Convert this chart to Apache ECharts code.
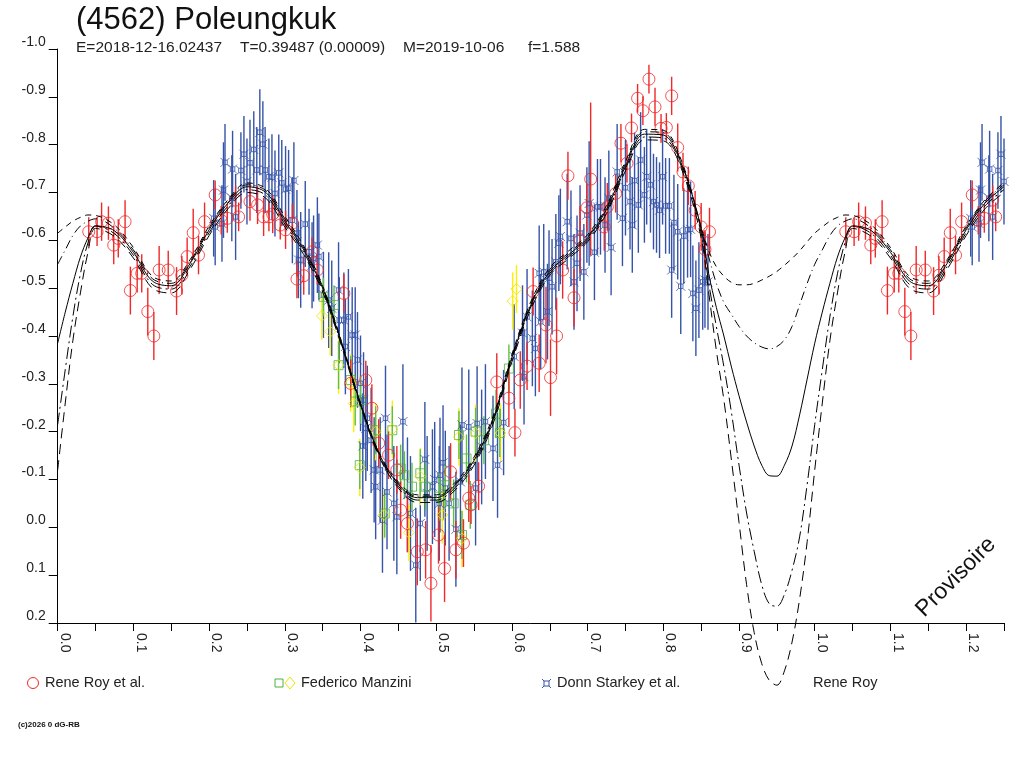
<!DOCTYPE html>
<html><head><meta charset="utf-8">
<script src="https://cdn.jsdelivr.net/npm/echarts@6/dist/echarts.min.js"></script>
<style>html,body{margin:0;padding:0;background:#fff}#c{width:1024px;height:768px}</style>
</head><body><div id="c"></div>
<script>
// ---------- fit curves (phase grid, one array per fit) ----------
const FIT_PHASE = [0,0.01,0.02,0.03,0.04,0.05,
  0.075,0.1,0.125,0.15,0.175,0.2,0.225,0.25,0.275,0.3,
  0.325,0.35,0.375,0.4,0.425,0.45,0.475,0.5,0.525,0.55,
  0.575,0.6,0.625,0.65,0.675,0.7,0.725,0.75,0.775,0.8,
  0.825,0.85,
  0.86,0.87,0.88,0.89,0.9,0.91,0.92,0.93,0.94,0.95,0.96,0.97,0.98,0.99];
const FIT1 = [-0.615,-0.628,-0.64,-0.648,-0.653,-0.652,
  -0.632,-0.585,-0.525,-0.515,-0.56,-0.63,-0.685,-0.72,-0.708,-0.65,
  -0.588,-0.505,-0.388,-0.26,-0.155,-0.095,-0.068,-0.068,-0.094,-0.147,
  -0.232,-0.362,-0.472,-0.543,-0.578,-0.612,-0.673,-0.765,-0.832,-0.83,
  -0.762,-0.628,
  -0.578,-0.545,-0.525,-0.512,-0.507,-0.507,-0.51,-0.517,-0.525,-0.535,-0.548,-0.562,-0.578,-0.597];
const FIT2 = [-0.55,-0.58,-0.61,-0.63,-0.64,-0.645,
  -0.625,-0.58,-0.52,-0.51,-0.556,-0.626,-0.682,-0.716,-0.704,-0.645,
  -0.584,-0.503,-0.387,-0.259,-0.153,-0.092,-0.065,-0.065,-0.091,-0.143,
  -0.228,-0.358,-0.468,-0.539,-0.574,-0.608,-0.669,-0.76,-0.827,-0.825,
  -0.758,-0.625,
  -0.565,-0.51,-0.47,-0.445,-0.42,-0.40,-0.386,-0.377,-0.373,-0.378,-0.392,-0.42,-0.465,-0.51];
const FIT3 = [-0.385,-0.45,-0.51,-0.565,-0.605,-0.63,
  -0.62,-0.575,-0.515,-0.505,-0.552,-0.622,-0.678,-0.712,-0.70,-0.64,
  -0.58,-0.50,-0.385,-0.258,-0.152,-0.09,-0.062,-0.062,-0.088,-0.14,
  -0.225,-0.355,-0.465,-0.535,-0.57,-0.605,-0.665,-0.755,-0.822,-0.82,
  -0.755,-0.625,
  -0.53,-0.46,-0.40,-0.335,-0.275,-0.22,-0.17,-0.13,-0.108,-0.107,-0.13,-0.17,-0.235,-0.31];
const FIT4 = [-0.215,-0.33,-0.44,-0.53,-0.595,-0.63,
  -0.614,-0.569,-0.508,-0.498,-0.546,-0.616,-0.672,-0.706,-0.694,-0.634,
  -0.575,-0.496,-0.382,-0.256,-0.149,-0.086,-0.057,-0.057,-0.083,-0.135,
  -0.221,-0.351,-0.461,-0.531,-0.566,-0.601,-0.66,-0.75,-0.816,-0.814,
  -0.75,-0.615,
  -0.51,-0.42,-0.336,-0.24,-0.13,-0.03,0.05,0.12,0.16,0.165,0.14,0.09,0.02,-0.09];
const FIT5 = [-0.12,-0.26,-0.39,-0.49,-0.575,-0.625,
  -0.608,-0.563,-0.5,-0.49,-0.54,-0.61,-0.666,-0.7,-0.688,-0.628,
  -0.57,-0.492,-0.379,-0.253,-0.146,-0.082,-0.052,-0.052,-0.078,-0.13,
  -0.216,-0.346,-0.456,-0.527,-0.562,-0.597,-0.656,-0.745,-0.81,-0.808,
  -0.745,-0.605,
  -0.49,-0.37,-0.266,-0.14,-0.01,0.12,0.22,0.285,0.32,0.33,0.3,0.24,0.15,0.03];

// ---------- Rene Roy et al. ----------
const royPhase = [0.041,0.052,0.058,0.067,0.074,0.080,0.089,
  0.096,0.105,0.111,0.119,0.127,0.134,0.146,
  0.157,0.164,0.171,0.179,0.186,0.194,
  0.208,0.216,0.224,0.235,0.239,0.254,0.264,
  0.272,0.279,0.284,0.294,0.301,0.310,
  0.316,0.325,0.336,0.343,
  0.378,0.387,0.407,0.415,0.424,0.437,0.448,
  0.453,0.462,0.475,0.486,0.493,0.503,0.511,
  0.519,0.526,0.536,0.543,0.546,0.556,
  0.580,0.596,0.604,0.611,0.620,0.628,0.636,
  0.645,0.651,0.659,0.667,0.674,0.682,0.690,
  0.699,0.704,0.722,0.726,0.737,0.744,0.752,
  0.758,0.766,0.773,0.781,0.789,0.797,0.804,
  0.811,0.819,0.826,0.833,0.842,0.850,0.855,0.861];
const royMag = [-0.618,-0.618,-0.639,-0.636,-0.590,-0.604,-0.639,
  -0.495,-0.531,-0.531,-0.451,-0.400,-0.538,-0.538,
  -0.494,-0.527,-0.566,-0.616,-0.569,-0.639,
  -0.695,-0.642,-0.646,-0.684,-0.649,-0.681,-0.674,
  -0.649,-0.649,-0.655,-0.632,-0.622,-0.636,
  -0.519,-0.526,-0.576,-0.538,
  -0.489,-0.301,-0.308,-0.249,-0.176,-0.151,-0.120,
  -0.036,-0.008,0.051,0.047,0.117,0.016,0.086,
  -0.116,0.047,0.033,-0.061,-0.047,-0.086,
  -0.304,-0.270,-0.198,-0.308,-0.337,-0.493,-0.343,
  -0.423,-0.313,-0.400,-0.538,-0.735,-0.480,-0.601,
  -0.668,-0.728,-0.628,-0.670,-0.698,-0.803,-0.761,
  -0.835,-0.897,-0.871,-0.937,-0.879,-0.834,-0.836,
  -0.902,-0.794,-0.743,-0.714,-0.663,-0.628,-0.581,-0.618];
const royErr = [0.03,0.03,0.04,0.035,0.04,0.04,0.045,
  0.05,0.04,0.04,0.05,0.05,0.05,0.04,
  0.05,0.04,0.04,0.05,0.04,0.04,
  0.03,0.03,0.03,0.03,0.03,0.04,0.04,
  0.04,0.03,0.04,0.03,0.04,0.04,
  0.04,0.04,0.03,0.03,
  0.04,0.05,0.04,0.05,0.05,0.05,0.05,
  0.06,0.06,0.07,0.06,0.08,0.06,0.07,
  0.06,0.06,0.05,0.05,0.04,0.05,
  0.06,0.06,0.05,0.06,0.05,0.05,0.06,
  0.08,0.08,0.08,0.06,0.05,0.06,0.07,
  0.05,0.16,0.05,0.05,0.04,0.04,0.04,
  0.03,0.03,0.03,0.03,0.04,0.03,0.03,
  0.04,0.05,0.04,0.04,0.04,0.05,0.04,0.05];

// ---------- Donn Starkey et al. ----------
const starkeyPhase = [0.206,0.208,0.217,0.219,0.221,0.230,0.231,0.235,0.242,0.246,
  0.250,0.254,0.259,0.263,0.267,0.271,0.274,0.279,0.283,0.287,
  0.292,0.296,0.301,0.305,0.310,0.312,0.316,0.318,0.321,0.327,
  0.332,0.336,0.338,0.343,0.345,0.351,0.358,0.362,0.371,0.372,
  0.378,0.380,0.384,0.389,0.393,0.396,0.400,0.403,0.404,0.407,
  0.409,0.414,0.418,0.420,0.426,0.429,0.433,0.435,0.444,0.448,
  0.456,0.462,0.466,0.473,0.479,0.485,0.488,0.495,0.498,0.504,
  0.505,0.509,0.512,0.517,0.526,0.532,0.534,0.543,0.552,0.554,
  0.560,0.565,0.575,0.581,0.589,0.603,0.614,0.616,0.620,0.627,
  0.631,0.636,0.638,0.642,0.647,0.649,0.653,0.658,0.662,0.664,
  0.673,0.678,0.682,0.686,0.690,0.695,0.699,0.702,0.709,0.713,
  0.717,0.723,0.728,0.731,0.739,0.746,0.750,0.756,0.759,0.762,
  0.767,0.770,0.775,0.778,0.783,0.787,0.791,0.795,0.799,0.803,
  0.808,0.811,0.814,0.819,0.823,0.827,0.832,0.836,0.839,0.843,
  0.847,0.852,0.855,0.859];
const starkeyMag = [-0.646,-0.628,-0.635,-0.705,-0.763,-0.688,-0.749,-0.649,-0.746,-0.780,
  -0.723,-0.762,-0.790,-0.747,-0.826,-0.801,-0.747,-0.733,-0.732,-0.698,
  -0.741,-0.720,-0.707,-0.709,-0.642,-0.725,-0.615,-0.559,-0.559,-0.634,
  -0.576,-0.548,-0.562,-0.590,-0.566,-0.486,-0.475,-0.458,-0.496,-0.433,
  -0.433,-0.378,-0.440,-0.402,-0.402,-0.350,-0.301,-0.170,-0.266,-0.207,
  -0.228,-0.182,-0.120,-0.085,-0.120,-0.015,-0.228,-0.074,-0.050,-0.022,
  -0.221,-0.068,-0.029,0.079,-0.008,-0.142,-0.071,-0.085,-0.100,-0.050,
  -0.109,-0.135,-0.082,-0.050,0.004,-0.095,-0.214,-0.210,-0.082,-0.217,
  -0.168,-0.221,-0.165,-0.130,-0.219,-0.357,-0.406,-0.315,-0.440,-0.395,
  -0.374,-0.531,-0.430,-0.534,-0.451,-0.521,-0.503,-0.555,-0.594,-0.608,
  -0.639,-0.604,-0.513,-0.552,-0.615,-0.534,-0.653,-0.677,-0.575,-0.670,
  -0.670,-0.632,-0.688,-0.585,-0.743,-0.646,-0.710,-0.681,-0.632,-0.725,
  -0.674,-0.768,-0.695,-0.733,-0.716,-0.681,-0.674,-0.663,-0.733,-0.672,
  -0.672,-0.538,-0.637,-0.618,-0.504,-0.609,-0.622,-0.623,-0.489,-0.458,
  -0.496,-0.513,-0.517,-0.513];
const starkeyErr = [0.08,0.08,0.08,0.10,0.08,0.09,0.08,0.09,0.08,0.08,
  0.09,0.09,0.08,0.09,0.09,0.09,0.09,0.08,0.09,0.09,
  0.08,0.09,0.09,0.08,0.09,0.08,0.09,0.08,0.10,0.09,
  0.09,0.09,0.09,0.10,0.09,0.09,0.10,0.10,0.10,0.09,
  0.10,0.10,0.10,0.10,0.10,0.10,0.10,0.11,0.10,0.11,
  0.11,0.11,0.11,0.11,0.11,0.11,0.11,0.12,0.12,0.12,
  0.12,0.12,0.12,0.12,0.12,0.12,0.12,0.12,0.12,0.12,
  0.12,0.12,0.12,0.12,0.12,0.12,0.12,0.12,0.12,0.12,
  0.12,0.12,0.11,0.11,0.11,0.11,0.10,0.10,0.10,0.10,
  0.10,0.10,0.10,0.10,0.10,0.10,0.10,0.10,0.10,0.10,
  0.10,0.10,0.10,0.10,0.10,0.10,0.10,0.13,0.10,0.10,
  0.10,0.10,0.10,0.10,0.10,0.10,0.10,0.10,0.10,0.10,
  0.10,0.10,0.10,0.10,0.10,0.10,0.10,0.10,0.10,0.10,
  0.10,0.10,0.10,0.10,0.10,0.10,0.10,0.10,0.10,0.10,
  0.10,0.10,0.10,0.10];

// ---------- Federico Manzini (two sessions) ----------
const manziniAPhase = [0.351,0.365,0.371,0.387,0.393,0.399,0.400,0.420,0.432,0.442,
  0.453,0.458,0.468,0.479,0.486,0.504,0.512,0.523,0.530,0.534,
  0.540,0.545,0.552,0.563,0.579,0.584,0.596];
const manziniAMag = [-0.482,-0.465,-0.339,-0.308,-0.263,-0.130,-0.266,-0.203,-0.029,-0.203,
  -0.123,-0.109,-0.085,-0.113,-0.085,-0.064,-0.088,-0.050,-0.193,0.016,
  -0.144,-0.047,-0.200,-0.182,-0.238,-0.197,-0.332];
const manziniAErr = [0.04,0.04,0.05,0.05,0.05,0.05,0.05,0.05,0.05,0.05,
  0.05,0.05,0.05,0.05,0.05,0.05,0.05,0.05,0.05,0.05,
  0.05,0.05,0.05,0.05,0.05,0.05,0.05];
const manziniBPhase = [0.349,0.360,0.371,0.387,0.391,0.399,0.420,0.431,0.442,0.464,
  0.479,0.508,0.530,0.534,0.552,0.585,0.601,0.606];
const manziniBMag = [-0.442,-0.409,-0.339,-0.302,-0.259,-0.125,-0.200,-0.026,-0.205,0.011,
  -0.106,-0.026,-0.189,0.023,-0.197,-0.197,-0.473,-0.498];
const manziniBErr = [0.05,0.05,0.06,0.06,0.06,0.06,0.06,0.05,0.06,0.06,
  0.06,0.06,0.06,0.06,0.06,0.06,0.06,0.05];

// ---------- texts ----------
const TITLE = '(4562) Poleungkuk';
const INFO = ['E=2018-12-16.02437', 'T=0.39487 (0.00009)', 'M=2019-10-06', 'f=1.588'];
const LEGEND = ['Rene Roy et al.', 'Federico Manzini', 'Donn Starkey et al.', 'Rene Roy'];

// ---------- build ----------
const FONT = '"Liberation Sans", Arial, sans-serif';
const C_RED = '#f02828', C_BLUE = '#3553a8', C_GREEN = '#4cb040', C_YEL = '#f2e400';
const STAR = 'path://M3,3 L9,3 L9,9 L3,9 Z M0,0 L3,3 M12,0 L9,3 M12,12 L9,9 M0,12 L3,9';

function obs(ph, mg, er) {
  const out = [];
  ph.forEach((p, i) => {
    out.push([p, mg[i], er[i]]);
    if (p + 1 <= 1.25) out.push([p + 1, mg[i], er[i]]);
  });
  return out;
}
function fit(vals) {
  const out = [];
  FIT_PHASE.forEach((p, i) => out.push([p, vals[i]]));
  FIT_PHASE.forEach((p, i) => { if (p + 1 <= 1.2501) out.push([p + 1, vals[i]]); });
  return out;
}
function errSeries(data, color, w) {
  return {
    type: 'custom', data: data, encode: { x: 0, y: 1 }, silent: true, z: 2,
    renderItem: function (params, api) {
      const x = api.value(0), y = api.value(1), e = api.value(2);
      const a = api.coord([x, y - e]), b = api.coord([x, y + e]);
      return { type: 'line', shape: { x1: a[0], y1: a[1], x2: b[0], y2: b[1] },
        style: { stroke: color, lineWidth: w || 1.4 } };
    }
  };
}
function markSeries(data, symbol, size, color) {
  return {
    type: 'scatter', data: data.map(d => [d[0], d[1]]), symbol: symbol, symbolSize: size,
    itemStyle: { color: 'rgba(0,0,0,0)', borderColor: color, borderWidth: 1 }, z: 3, silent: true
  };
}
function fitSeries(vals, type) {
  return {
    type: 'line', data: fit(vals), showSymbol: false, symbol: 'none', smooth: 0.35,
    clip: false, silent: true, z: 5,
    lineStyle: { color: '#000', width: 1, type: type }
  };
}

const roy = obs(royPhase, royMag, royErr);
const starkey = obs(starkeyPhase, starkeyMag, starkeyErr);
const manA = obs(manziniAPhase, manziniAMag, manziniAErr);
const manB = obs(manziniBPhase, manziniBMag, manziniBErr);

function txt(x, y, s, size, extra, rot) {
  const el = { type: 'text', x: x, y: y,
    style: Object.assign({ text: s, fontSize: size, fontFamily: FONT, fill: '#222', verticalAlign: 'middle' }, extra || {}) };
  if (rot) el.rotation = rot;
  return el;
}
function seg(x1, y1, x2, y2, c) {
  return { type: 'line', shape: { x1: x1, y1: y1, x2: x2, y2: y2 }, style: { stroke: c, lineWidth: 1 } };
}

const chart = echarts.init(document.getElementById('c'));
chart.setOption({
  animation: false,
  backgroundColor: '#fff',
  grid: { left: 57.7, right: 20, top: 49, bottom: 145 },
  xAxis: {
    type: 'value', min: 0, max: 1.25, interval: 0.05,
    axisLine: { onZero: false, lineStyle: { color: '#000', width: 1 } },
    axisTick: { show: true, length: 8, inside: false, lineStyle: { color: '#000' } },
    splitLine: { show: false },
    axisLabel: {
      rotate: -90, margin: 10, color: '#222', fontFamily: FONT, fontSize: 14,
      verticalAlign: 'bottom', showMaxLabel: true, showMinLabel: true,
      formatter: function (v) { return Math.abs(v * 10 - Math.round(v * 10)) < 1e-6 ? v.toFixed(1) : ''; }
    }
  },
  yAxis: {
    type: 'value', inverse: true, min: -1.0, max: 0.2, interval: 0.1,
    axisLine: { show: true, onZero: false, lineStyle: { color: '#000', width: 1 } },
    axisTick: { show: true, length: 9, inside: false, lineStyle: { color: '#000' } },
    splitLine: { show: false },
    axisLabel: {
      margin: 12, color: '#222', fontFamily: FONT, fontSize: 14, verticalAlign: 'bottom',
      formatter: function (v) { return (Math.abs(v) < 1e-9 ? 0 : v).toFixed(1); }
    }
  },
  series: [
    errSeries(starkey, C_BLUE, 1.4),
    markSeries(starkey, STAR, 9, C_BLUE),
    errSeries(manB, '#ffee00', 1.4),
    errSeries(manA, '#5cc040', 1.4),
    markSeries(manA, 'rect', 9, C_GREEN),
    markSeries(manB, 'diamond', 11, C_YEL),
    errSeries(roy, C_RED, 1.4),
    markSeries(roy, 'circle', 12, C_RED),
    fitSeries(FIT1, [6, 5]),
    fitSeries(FIT2, [9, 4, 1, 4]),
    fitSeries(FIT3, 'solid'),
    fitSeries(FIT4, [12, 4, 2, 4]),
    fitSeries(FIT5, [10, 6])
  ],
  graphic: [
    txt(76, 20, TITLE, 31, { fill: '#111' }),
    txt(76, 48, INFO[0], 15.5),
    txt(240, 48, INFO[1], 15.5),
    txt(403, 48, INFO[2], 15.5),
    txt(528, 48, INFO[3], 15.5),
    { type: 'circle', shape: { cx: 33, cy: 683, r: 5.5 }, style: { fill: 'none', stroke: C_RED, lineWidth: 1 } },
    txt(45, 683, LEGEND[0], 14.5),
    { type: 'rect', shape: { x: 275, y: 679, width: 8, height: 8 }, style: { fill: 'none', stroke: C_GREEN, lineWidth: 1 } },
    { type: 'polygon', shape: { points: [[290, 677], [295, 683], [290, 689], [285, 683]] }, style: { fill: 'none', stroke: C_YEL, lineWidth: 1 } },
    txt(301, 683, LEGEND[1], 14.5),
    { type: 'rect', shape: { x: 544, y: 681, width: 5, height: 5 }, style: { fill: 'none', stroke: C_BLUE, lineWidth: 1 } },
    seg(542, 679, 544, 681, C_BLUE), seg(551, 679, 549, 681, C_BLUE),
    seg(542, 688, 544, 686, C_BLUE), seg(551, 688, 549, 686, C_BLUE),
    txt(557, 683, LEGEND[2], 14.5),
    txt(813, 683, LEGEND[3], 14.5),
    txt(956, 577, 'Provisoire', 23, { fill: '#111', align: 'center' }, Math.PI / 4),
    txt(18, 725, '(c)2026 0 dG-RB', 8, { fontWeight: 'bold', fill: '#111' })
  ]
});
</script>
</body></html>
